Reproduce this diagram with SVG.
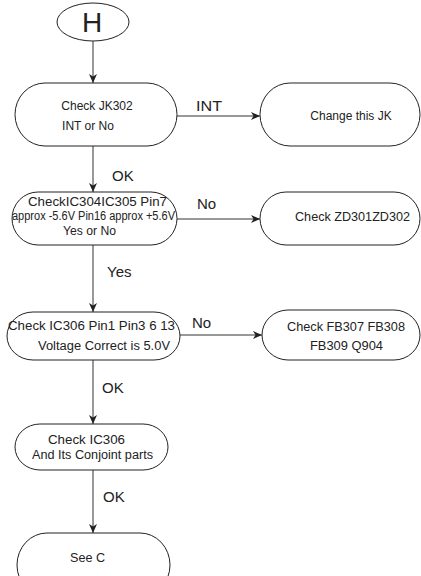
<svg xmlns="http://www.w3.org/2000/svg" width="421" height="576" viewBox="0 0 421 576">
<defs>
<style>
.node{fill:#fff;stroke:#222;stroke-width:1}
.t{font-family:"Liberation Sans",Arial,sans-serif;font-size:12px;fill:#222}
.lbl{font-family:"Liberation Sans",Arial,sans-serif;font-size:15px;fill:#222}
.conn{stroke:#333;stroke-width:1;fill:none;marker-end:url(#arr)}
</style>
<marker id="arr" markerWidth="10" markerHeight="8" refX="9" refY="4" orient="auto" markerUnits="userSpaceOnUse">
<path d="M0,0 L9,4 L0,8 L2.5,4 z" fill="#222"/>
</marker>
</defs>
<rect width="421" height="576" fill="#fff"/>
<g id="connectors">
<line class="conn" x1="93" y1="41" x2="93" y2="83"/>
<line class="conn" x1="177" y1="116" x2="260" y2="116"/>
<line class="conn" x1="93" y1="146" x2="93" y2="192"/>
<line class="conn" x1="177" y1="219" x2="260" y2="219"/>
<line class="conn" x1="93" y1="245" x2="93" y2="312"/>
<line class="conn" x1="180" y1="335" x2="262" y2="335"/>
<line class="conn" x1="93" y1="360" x2="93" y2="424"/>
<line class="conn" x1="93" y1="470" x2="93" y2="533"/>
<text class="lbl" x="196" y="111" textLength="26" lengthAdjust="spacingAndGlyphs">INT</text>
<text class="lbl" x="112" y="181">OK</text>
<text class="lbl" x="197" y="209">No</text>
<text class="lbl" x="107" y="277">Yes</text>
<text class="lbl" x="192" y="328">No</text>
<text class="lbl" x="102" y="393">OK</text>
<text class="lbl" x="103" y="502">OK</text>
</g>
<g id="nodeH">
<ellipse class="node" cx="93" cy="22" rx="36" ry="19"/>
<text x="92" y="32" text-anchor="middle" font-family="Liberation Sans, Arial, sans-serif" font-size="28" fill="#222">H</text>
</g>
<g id="node1">
<rect class="node" x="15" y="83" width="162" height="63" rx="30" ry="31.5"/>
<text class="t" x="97" y="110" text-anchor="middle">Check JK302</text>
<text class="t" x="88" y="130" text-anchor="middle">INT or No</text>
</g>
<g id="nodeChangeJK">
<rect class="node" x="260" y="83" width="160" height="63" rx="30" ry="31.5"/>
<text class="t" x="351" y="120" text-anchor="middle">Change this JK</text>
</g>
<g id="node2">
<rect class="node" x="12" y="192" width="165" height="53" rx="26" ry="26.5"/>
<text class="t" x="28" y="206" font-size="13" textLength="139" lengthAdjust="spacingAndGlyphs">CheckIC304IC305 Pin7</text>
<text class="t" x="12" y="220" font-size="11" textLength="163" lengthAdjust="spacingAndGlyphs">approx -5.6V  Pin16 approx +5.6V</text>
<text class="t" x="63" y="235" textLength="53" lengthAdjust="spacingAndGlyphs">Yes or No</text>
</g>
<g id="nodeZD">
<rect class="node" x="260" y="192" width="160" height="53" rx="26" ry="26.5"/>
<text class="t" x="295" y="221" textLength="115" lengthAdjust="spacingAndGlyphs">Check ZD301ZD302</text>
</g>
<g id="node3">
<rect class="node" x="7" y="312" width="173" height="48" rx="26" ry="24"/>
<text class="t" x="8" y="330" textLength="167" lengthAdjust="spacingAndGlyphs">Check IC306 Pin1 Pin3 6 13</text>
<text class="t" x="38" y="350" textLength="132" lengthAdjust="spacingAndGlyphs">Voltage Correct  is 5.0V</text>
</g>
<g id="nodeFB">
<rect class="node" x="262" y="310" width="158" height="50" rx="26" ry="25"/>
<text class="t" x="287" y="331" textLength="118" lengthAdjust="spacingAndGlyphs">Check  FB307 FB308</text>
<text class="t" x="310" y="350" textLength="73" lengthAdjust="spacingAndGlyphs">FB309 Q904</text>
</g>
<g id="node4">
<rect class="node" x="15" y="424" width="153" height="46" rx="25" ry="23"/>
<text class="t" x="48" y="444" textLength="77" lengthAdjust="spacingAndGlyphs">Check  IC306</text>
<text class="t" x="32" y="459" textLength="121" lengthAdjust="spacingAndGlyphs">And Its Conjoint parts</text>
</g>
<g id="node5">
<rect class="node" x="17" y="533" width="153" height="64" rx="30" ry="32"/>
<text class="t" x="70" y="562" textLength="35" lengthAdjust="spacingAndGlyphs">See C</text>
</g>
</svg>
